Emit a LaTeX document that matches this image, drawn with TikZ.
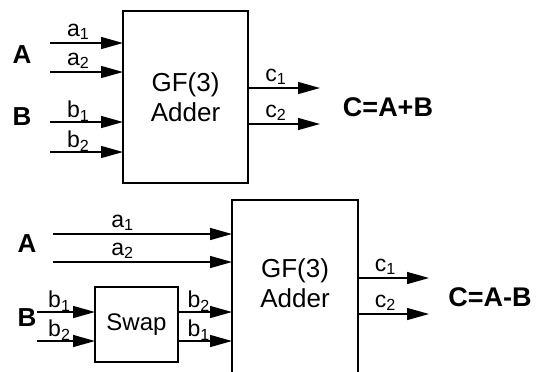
\documentclass[tikz,border=0pt]{standalone}
\usepackage{fontspec}
\setmainfont{Liberation Sans}
\usetikzlibrary{positioning, arrows.meta}
\tikzset{
  box/.style={draw, line width=0.7pt, inner sep=0pt, outer sep=0pt, align=center, font=\fontsize{12}{14.5}\selectfont},
  adder/.style={font=\fontsize{13}{15}\selectfont},
  sig/.style={-{Triangle[length=11pt, width=6pt]}, line width=0.7pt},
  lbl/.style={font=\fontsize{11.5}{13}\selectfont, inner sep=0pt, anchor=center, yshift=5.5pt, pos=0.39},
  port/.style={font=\fontsize{13}{14}\selectfont\bfseries},
  eqn/.style={font=\fontsize{13.5}{15}\selectfont\bfseries}
}

\begin{document}
\begin{tikzpicture}[x=0.5pt, y=-0.5pt]
\useasboundingbox (0,0) rectangle (540,371);
\clip (0,0) rectangle (540,371);

% C = A + B
\node[box, adder, minimum width=62.5pt, minimum height=86pt] (add1) at (185.5,97) {GF(3)\\Adder};
\node[port] (A1) at (22,55) {A};
\node[port] (B1) at (22,117) {B};
\coordinate (ia1) at (50,43);
\coordinate (ia2) at (50,72);
\coordinate (ib1) at (50,122);
\coordinate (ib2) at (50,152);
\coordinate (oc1) at (320,88);
\coordinate (oc2) at (320,124);
\draw[sig] (ia1) -- (ia1 -| add1.west) node[lbl] {a\textsubscript{1}};
\draw[sig] (ia2) -- (ia2 -| add1.west) node[lbl] {a\textsubscript{2}};
\draw[sig] (ib1) -- (ib1 -| add1.west) node[lbl] {b\textsubscript{1}};
\draw[sig] (ib2) -- (ib2 -| add1.west) node[lbl] {b\textsubscript{2}};
\draw[sig] (oc1 -| add1.east) -- (oc1) node[lbl] {c\textsubscript{1}};
\draw[sig] (oc2 -| add1.east) -- (oc2) node[lbl] {c\textsubscript{2}};
\node[eqn] (sum) at (388,107) {C=A+B};

% C = A - B
\node[box, minimum width=63pt, minimum height=90pt] (add2) at (295,290) {};
\node[adder, align=center] (add2txt) at (295,283) {GF(3)\\Adder};
\node[box, minimum width=41.5pt, minimum height=37.5pt] (swap) at (136.5,324.5) {Swap};
\node[port] (A2) at (27,244) {A};
\node[port] (B2) at (27,318) {B};
\coordinate (ja1) at (53,234);
\coordinate (ja2) at (53,262);
\coordinate (jb1) at (37,312);
\coordinate (jb2) at (37,341);
\coordinate (pc1) at (429,278);
\coordinate (pc2) at (429,314);
\draw[sig] (ja1) -- (ja1 -| add2.west) node[lbl] {a\textsubscript{1}};
\draw[sig] (ja2) -- (ja2 -| add2.west) node[lbl] {a\textsubscript{2}};
\draw[sig] (jb1) -- (jb1 -| swap.west) node[lbl] {b\textsubscript{1}};
\draw[sig] (jb2) -- (jb2 -| swap.west) node[lbl] {b\textsubscript{2}};
\draw[sig] (jb1 -| swap.east) -- (jb1 -| add2.west) node[lbl] {b\textsubscript{2}};
\draw[sig] (jb2 -| swap.east) -- (jb2 -| add2.west) node[lbl] {b\textsubscript{1}};
\draw[sig] (pc1 -| add2.east) -- (pc1) node[lbl] {c\textsubscript{1}};
\draw[sig] (pc2 -| add2.east) -- (pc2) node[lbl] {c\textsubscript{2}};
\node[eqn] (diff) at (490,297) {C=A-B};
\end{tikzpicture}
\end{document}
